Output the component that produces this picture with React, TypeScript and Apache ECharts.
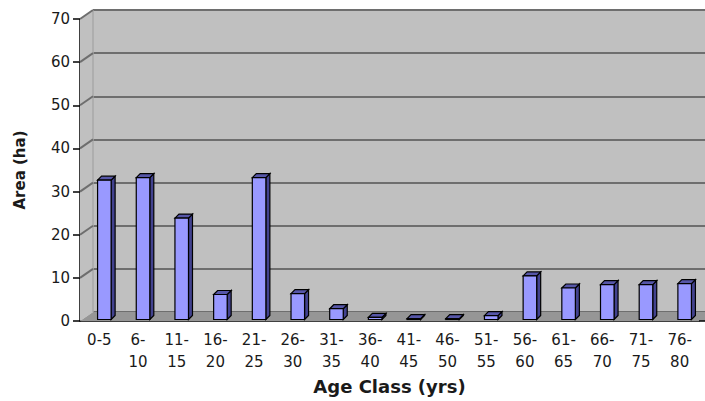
import React, { useEffect, useRef } from 'react';
import * as echarts from 'echarts';

const categories = ['0-5', '6-\n10', '11-\n15', '16-\n20', '21-\n25', '26-\n30', '31-\n35', '36-\n40', '41-\n45', '46-\n50', '51-\n55', '56-\n60', '61-\n65', '66-\n70', '71-\n75', '76-\n80'];
const areaHa = [32.3, 32.9, 23.5, 5.8, 32.9, 6.0, 2.5, 0.5, 0.2, 0.2, 0.9, 10.1, 7.3, 8.1, 8.1, 8.3];
const yTicks = [0, 10, 20, 30, 40, 50, 60, 70];

const DX = 13;
const DY = -9;
const FONT = 'DejaVu Sans, Verdana, sans-serif';

export default function App() {
  const ref = useRef<HTMLDivElement>(null);
  useEffect(() => {
    if (!ref.current) return;
    const chart = echarts.init(ref.current, undefined, { renderer: 'svg' });
    const option: any = {
      animation: false,
      backgroundColor: '#ffffff',
      grid: [
        { left: 93, top: 10, right: 0, bottom: 89, show: true, backgroundColor: '#c0c0c0', borderWidth: 0 },
        { left: 80, top: 19, right: 6, bottom: 80 },
      ],
      xAxis: [
        { gridIndex: 0, type: 'category', data: categories, show: false },
        {
          gridIndex: 1,
          type: 'category',
          data: categories,
          axisLine: { lineStyle: { color: '#000', width: 1.5 } },
          axisTick: { length: 6, lineStyle: { color: '#000', width: 1.5 } },
          axisLabel: { interval: 0, margin: 8, fontSize: 15, lineHeight: 22, color: '#1a1a1a', fontFamily: FONT },
          name: 'Age Class (yrs)',
          nameLocation: 'middle',
          nameGap: 55,
          nameTextStyle: { fontWeight: 'bold', fontSize: 18, color: '#1a1a1a', fontFamily: FONT },
        },
      ],
      yAxis: [
        {
          gridIndex: 0,
          type: 'value',
          min: 0,
          max: 70,
          interval: 10,
          axisLabel: { show: false },
          axisLine: { show: false },
          axisTick: { show: false },
          splitLine: { lineStyle: { color: '#6e6e6e', width: 2 } },
        },
        {
          gridIndex: 1,
          type: 'value',
          min: 0,
          max: 70,
          interval: 10,
          splitLine: { show: false },
          axisLine: { show: true, lineStyle: { color: '#000', width: 1.5 } },
          axisTick: { show: true, length: 7, lineStyle: { color: '#000', width: 1.5 } },
          axisLabel: { margin: 10, fontSize: 15, color: '#1a1a1a', fontFamily: FONT },
          name: 'Area (ha)',
          nameLocation: 'middle',
          nameGap: 53,
          nameTextStyle: { fontWeight: 'bold', fontSize: 15, color: '#1a1a1a', fontFamily: FONT },
        },
      ],
      series: [
        {
          type: 'custom',
          xAxisIndex: 1,
          yAxisIndex: 1,
          silent: true,
          z: 1,
          data: yTicks.map((v) => [0, v]),
          renderItem: (params: any, api: any) => {
            const v = api.value(1);
            const p = api.coord([0, v]);
            const bw = api.size([1, 0])[0];
            const x0 = p[0] - bw / 2;
            const W = api.getWidth();
            const children: any[] = [];
            if (v === 0) {
              const top = api.coord([0, 70]);
              const cs = params.coordSys;
              children.push({
                type: 'polygon',
                shape: { points: [[x0, top[1]], [x0 + DX, top[1] + DY], [x0 + DX, p[1] + DY], [x0, p[1]]] },
                style: { fill: '#c0c0c0' },
              });
              children.push({
                type: 'line',
                shape: { x1: x0 + DX, y1: top[1] + DY, x2: x0 + DX, y2: p[1] + DY },
                style: { stroke: '#a8a8a8', lineWidth: 1.5 },
              });
              children.push({
                type: 'polygon',
                shape: { points: [[x0, p[1]], [x0 + DX, p[1] + DY], [W, p[1] + DY], [W, p[1]]] },
                style: { fill: '#969696' },
              });
              children.push({
                type: 'line',
                shape: { x1: cs.x + cs.width, y1: p[1], x2: W, y2: p[1] },
                style: { stroke: '#000', lineWidth: 1.5 },
              });
            } else {
              children.push({
                type: 'line',
                shape: { x1: x0, y1: p[1], x2: x0 + DX, y2: p[1] + DY },
                style: { stroke: '#6e6e6e', lineWidth: 2 },
              });
            }
            return { type: 'group', children };
          },
        },
        {
          type: 'custom',
          xAxisIndex: 1,
          yAxisIndex: 1,
          z: 3,
          data: areaHa.map((v, i) => [i, v]),
          renderItem: (params: any, api: any) => {
            const i = api.value(0);
            const v = api.value(1);
            const base = api.coord([i, 0]);
            const tp = api.coord([i, v]);
            const bw = api.size([1, 0])[0];
            const w = bw * 0.35;
            const d = 4;
            const x = base[0] + 5 - w / 2;
            const yb = base[1] - 1.5;
            const yt = tp[1] - 1.5;
            const stroke = { stroke: '#000', lineWidth: 1.2 };
            return {
              type: 'group',
              children: [
                {
                  type: 'polygon',
                  shape: { points: [[x + w, yt], [x + w + d, yt - d], [x + w + d, yb - d], [x + w, yb]] },
                  style: { fill: '#42428f', ...stroke },
                },
                {
                  type: 'polygon',
                  shape: { points: [[x, yt], [x + d, yt - d], [x + w + d, yt - d], [x + w, yt]] },
                  style: { fill: '#5656a8', ...stroke },
                },
                {
                  type: 'rect',
                  shape: { x, y: yt, width: w, height: Math.max(yb - yt, 0.5) },
                  style: { fill: '#9999ff', ...stroke },
                },
              ],
            };
          },
        },
      ],
    };
    chart.setOption(option);
    return () => chart.dispose();
  }, []);
  return <div ref={ref} style={{ width: 705, height: 401, position: 'absolute', left: 0, top: 0 }} />;
}
